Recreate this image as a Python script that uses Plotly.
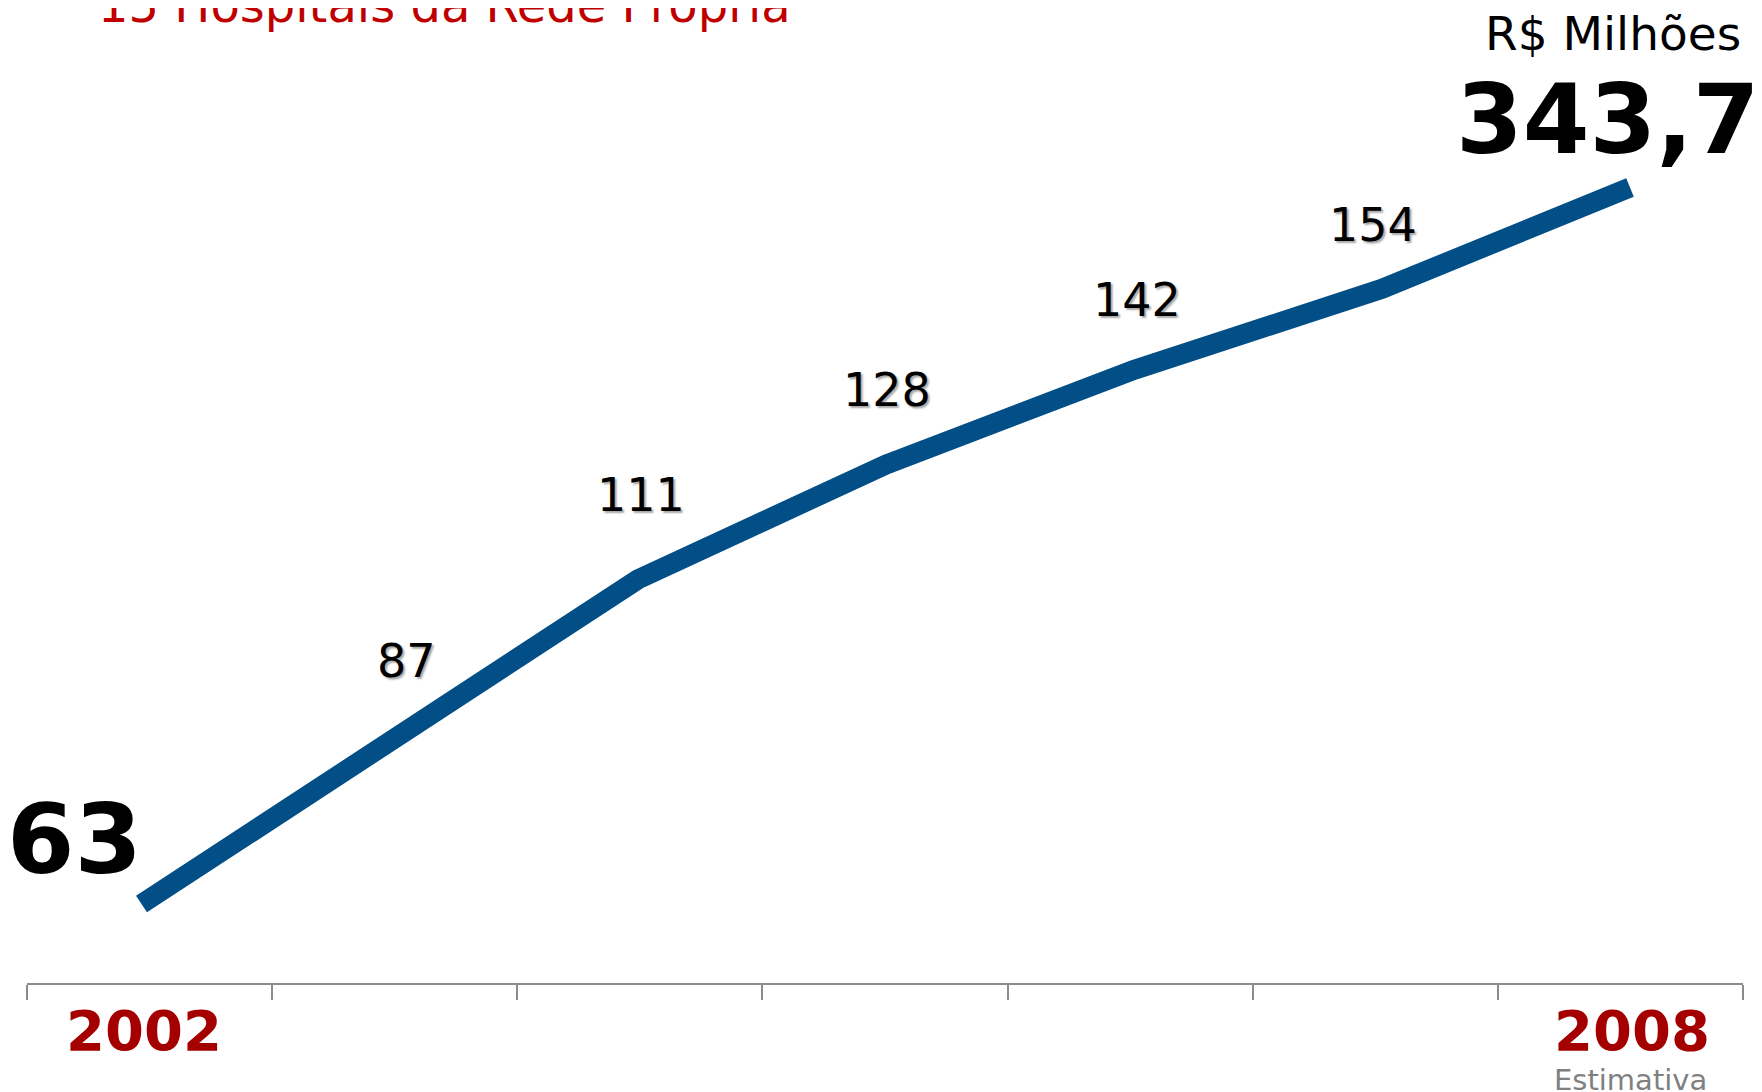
import plotly.graph_objects as go

# ---- data ----
anos = [2002, 2003, 2004, 2005, 2006, 2007, 2008]
valores = [63, 87, 111, 128, 142, 154, 343.7]
rotulos = ["63", "87", "111", "128", "142", "154", "343,7"]
# The reference draws the 2008 estimate off-scale: its vertex sits at ~169 on the
# scale used by the other points.
valores_linha = [63, 87, 111, 128, 142, 154, 169]
titulo = "15 Hospitais da Rede Própria"
unidade = "R$ Milhões"
nota_2008 = "Estimativa"

W, H = 1762, 1092
OFF = 8  # page body margin: figure starts 8px right/down of the screenshot origin

# plot area in screen pixels
SX0, SX1 = 27, 1743
SY0, SY1 = OFF, 983
ML = SX0 - OFF
MR = W - (SX1 - OFF)
MT = SY0 - OFF
MB = H - (SY1 - OFF)
PW = SX1 - SX0
PH = SY1 - SY0

FONT = "DejaVu Sans, Verdana, sans-serif"
BLUE = "#024E87"

# label offsets (pixels) for the intermediate value labels (2003..2007)
label_dx = [17, 3, 1, 3, -9]
label_dy = [81, 85, 75, 70, 64]


def py(pix):
    """screen pixel row -> paper y"""
    return 1 - (pix - SY0) / PH


def px(pix):
    """screen pixel column -> paper x"""
    return (pix - SX0) / PW


idx = list(range(len(anos)))

fig = go.Figure()
fig.add_trace(go.Scatter(
    x=idx, y=valores_linha, mode="lines",
    line=dict(color=BLUE, width=20),
    hoverinfo="skip", showlegend=False,
))
# invisible trace to carry the tick axis
fig.add_trace(go.Scatter(
    x=[0, len(anos)], y=[valores_linha[0], valores_linha[0]], xaxis="x2",
    mode="markers", marker=dict(opacity=0), hoverinfo="skip", showlegend=False,
))

annotations = []
# small value labels with shadow
for k, i in enumerate(range(1, len(anos) - 1)):
    annotations.append(dict(
        x=i, y=valores_linha[i], xref="x", yref="y", text=rotulos[i],
        showarrow=False, xanchor="center", yanchor="middle",
        yshift=label_dy[k], xshift=label_dx[k],
        font=dict(family=FONT, size=46, color="#000000",
                  shadow="2px 2px 2px rgba(0,0,0,0.35)"),
    ))
# first value
annotations.append(dict(
    x=0, y=valores_linha[0], xref="x", yref="y", text=rotulos[0],
    showarrow=False, xanchor="right", yanchor="middle", yshift=65, xshift=2,
    font=dict(family=FONT, size=97, color="#000000", weight="bold"),
))
# last value
annotations.append(dict(
    x=px(1454), y=py(120), xref="paper", yref="paper", text=rotulos[-1],
    showarrow=False, xanchor="left", yanchor="middle",
    font=dict(family=FONT, size=96, color="#000000", weight="bold"),
))
# unit
annotations.append(dict(
    x=px(1743), y=py(34), xref="paper", yref="paper", text=unidade,
    showarrow=False, xanchor="right", yanchor="middle",
    font=dict(family=FONT, size=47, color="#000000"),
))
# title (cut at top as in reference)
annotations.append(dict(
    x=px(96), y=py(22 - 0.346 * 48), xref="paper", yref="paper", text=titulo,
    showarrow=False, xanchor="left", yanchor="middle",
    font=dict(family=FONT, size=48, color="#C00000"),
))
# years
for i in (0, len(anos) - 1):
    annotations.append(dict(
        x=i, y=py(1050 - 0.346 * 56), xref="x", yref="paper", text=str(anos[i]),
        showarrow=False, xanchor="center", yanchor="middle", xshift=2,
        font=dict(family=FONT, size=56, color="#A50000", weight="bold"),
    ))
annotations.append(dict(
    x=len(anos) - 1, y=py(1090 - 0.346 * 29), xref="x", yref="paper", text=nota_2008,
    showarrow=False, xanchor="center", yanchor="middle",
    font=dict(family=FONT, size=29, color="#808080"),
))

# axis ranges so that vertices land like the reference (screen px)
ppx = (1630 - 141.5) / (len(anos) - 1)
x0 = -(141.5 - SX0) / ppx
x1 = x0 + PW / ppx
ppu = 6.76
y0 = valores_linha[0] - (SY1 - 904) / ppu
y1 = y0 + PH / ppu

fig.update_layout(
    width=W, height=H,
    margin=dict(l=ML, r=MR, t=MT, b=MB),
    paper_bgcolor="white", plot_bgcolor="white",
    xaxis=dict(range=[x0, x1], visible=False, fixedrange=True),
    xaxis2=dict(range=[0, len(anos)], overlaying="x", anchor="y", side="bottom",
                showline=True, linecolor="#8c8c8c", linewidth=2,
                ticks="outside", ticklen=15, tickwidth=2, tickcolor="#8c8c8c",
                tickvals=list(range(len(anos) + 1)), showticklabels=False,
                showgrid=False, zeroline=False),
    yaxis=dict(range=[y0, y1], visible=False, fixedrange=True),
    annotations=annotations,
    showlegend=False,
)

fig.write_html("out.html")
